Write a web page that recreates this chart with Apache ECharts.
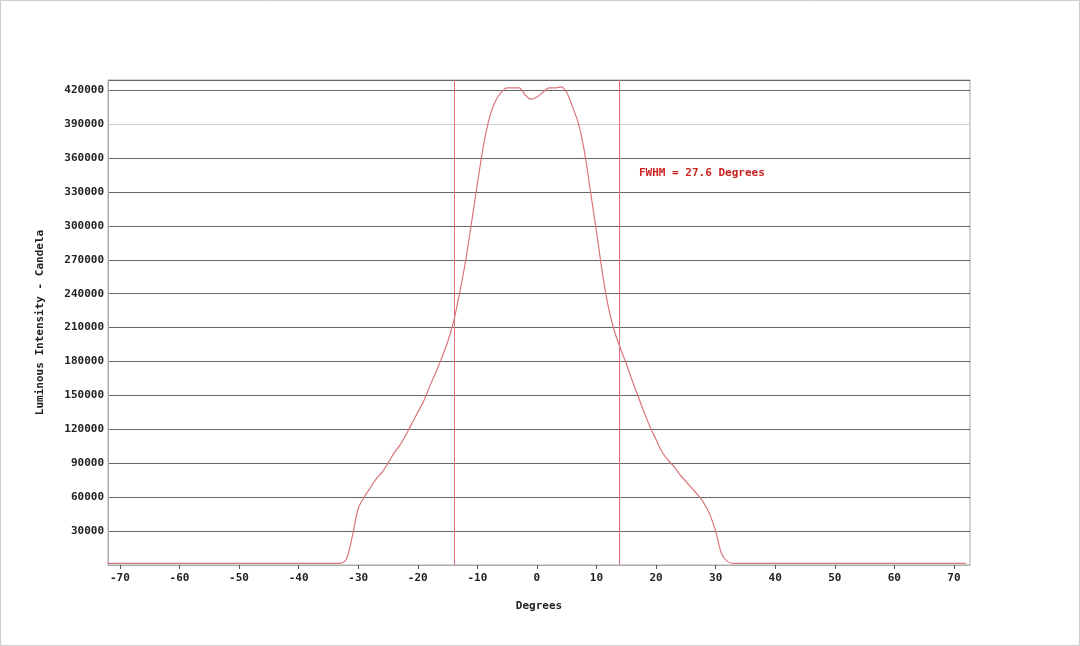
<!DOCTYPE html>
<html>
<head>
<meta charset="utf-8">
<script src="https://cdn.jsdelivr.net/npm/echarts@6/dist/echarts.min.js"></script>
<style>
html, body { margin: 0; padding: 0; background: #fff; }
#chart { width: 1080px; height: 646px; }
</style>
</head>
<body>
<div id="chart"></div>
<script>
// degrees / candela
var degrees = [-72, -33, -32, -31, -30, -29, -28, -27, -26, -25, -24, -23, -22, -21, -20, -19, -18, -17, -16, -15,
	-14, -13, -12, -11, -10, -9, -8, -7, -6, -5, -4, -3, -2, -1, 0, 1, 2, 3, 4, 5, 6, 7, 8, 9, 10,
	11, 12, 13, 14, 15, 16, 17, 18, 19, 20, 21, 22, 23, 24, 25, 26, 27, 28, 29, 30, 31, 32, 33, 72];
var candela = [1500, 1500, 5000, 25000, 50000, 60000, 68000, 76000, 82000, 90000, 99000, 106000, 115000, 125000, 135000, 145000, 158000, 170000, 183000, 197000,
	215000, 240000, 268000, 302000, 337000, 370000, 395000, 410000, 418000, 422000, 422000, 422000, 416000, 412000, 414000, 418000, 422000, 422000, 423000, 418000, 405000, 390000, 365000, 330000, 295000,
	258000, 228000, 207000, 192000, 178000, 163000, 149000, 135000, 122000, 111000, 100000, 93000, 87000, 80000, 74000, 68000, 62000, 55000, 45000, 30000, 10000, 3000, 1500, 1500];
var fwhmLines = [-13.8, 13.8];
var fwhmText = 'FWHM = 27.6 Degrees';
var xTicks = [-70, -60, -50, -40, -30, -20, -10, 0, 10, 20, 30, 40, 50, 60, 70];

var font = 'DejaVu Sans Mono';
var chart = echarts.init(document.getElementById('chart'));
chart.setOption({
	animation: false,
	grid: { left: 108, right: 110, top: 80, bottom: 81, show: true, borderColor: '#aaa', borderWidth: 1 },
	xAxis: {
		type: 'value', min: -72, max: 72.7,
		name: 'Degrees', nameLocation: 'middle', nameGap: 36,
		nameTextStyle: { fontFamily: font, fontSize: 11, fontWeight: 'bold', color: '#222' },
		axisLine: { onZero: false, lineStyle: { color: '#aaa' } },
		axisTick: { show: true, length: 4, lineStyle: { color: '#555' }, customValues: xTicks },
		axisLabel: { fontFamily: font, fontSize: 11, fontWeight: 'bold', color: '#222', customValues: xTicks },
		splitLine: { show: false }
	},
	yAxis: {
		type: 'value', min: 0, max: 429000, interval: 30000,
		name: 'Luminous Intensity - Candela', nameLocation: 'middle', nameGap: 62,
		nameTextStyle: { fontFamily: font, fontSize: 11, fontWeight: 'bold', color: '#222' },
		axisLine: { show: true, onZero: false, lineStyle: { color: '#aaa' } },
		axisTick: { show: false },
		axisLabel: { fontFamily: font, fontSize: 11, fontWeight: 'bold', color: '#222', margin: 4,
			formatter: function (v) { return v === 0 ? '' : v; } },
		splitLine: { lineStyle: { color: ['#666', '#666', '#666', '#666', '#666', '#666', '#666', '#666', '#666', '#666', '#666', '#666', '#666', '#ccc', '#666'], width: 1 } }
	},
	series: [{
		type: 'line', data: degrees.map(function (d, i) { return [d, candela[i]]; }),
		smooth: 0.3, showSymbol: false,
		lineStyle: { color: '#d9757b', width: 1.2 },
		markLine: {
			silent: true, symbol: 'none', label: { show: false },
			lineStyle: { color: '#d9757b', width: 1, type: 'solid' },
			emphasis: { disabled: true },
			data: fwhmLines.map(function (x) { return { xAxis: x, lineStyle: { color: '#d9757b', type: 'solid' } }; })
		}
	}],
	graphic: [{
		type: 'text', left: 639, top: 168,
		style: { text: fwhmText, fill: '#cc2222', font: 'bold 11px "DejaVu Sans Mono"' }
	}, {
		type: 'rect', shape: { x: 0.5, y: 0.5, width: 1079, height: 645 },
		style: { fill: 'none', stroke: '#ccc' }
	}]
});
</script>
</body>
</html>
